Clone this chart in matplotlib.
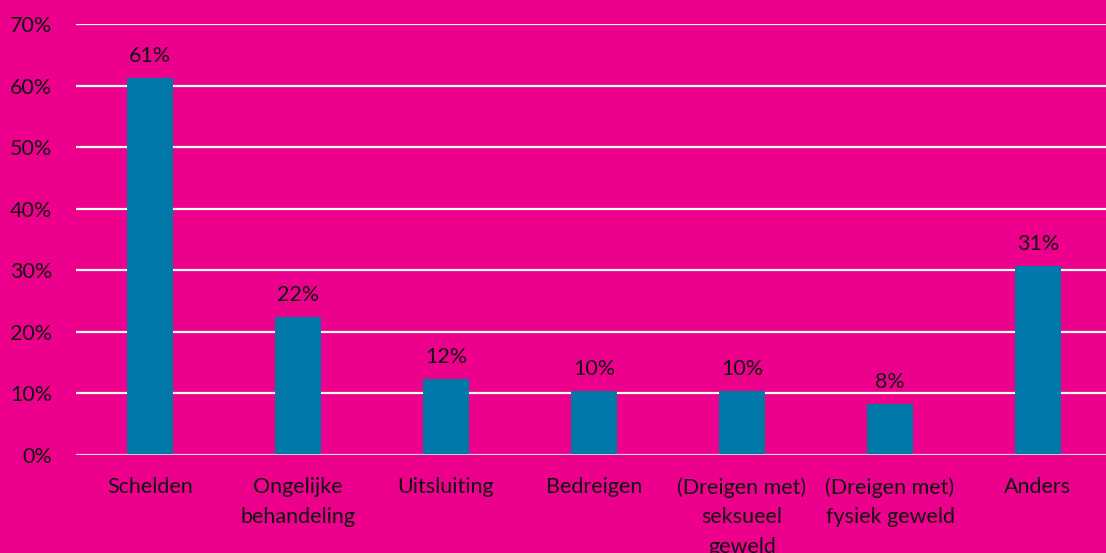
import matplotlib.pyplot as plt
from matplotlib.ticker import FuncFormatter

# Data
categories = [
    "Schelden",
    "Ongelijke\nbehandeling",
    "Uitsluiting",
    "Bedreigen",
    "(Dreigen met)\nseksueel\ngeweld",
    "(Dreigen met)\nfysiek geweld",
    "Anders",
]
values = [61.2, 22.4, 12.3, 10.4, 10.4, 8.3, 30.7]
y_ticks = [0, 10, 20, 30, 40, 50, 60, 70]

BG = "#EC008C"
BAR = "#0079A8"
FS = 15.5

plt.rcParams["font.family"] = ["Lato", "DejaVu Sans"]

fig = plt.figure(figsize=(11.06, 5.53), dpi=100, facecolor=BG)
ax = fig.add_axes([76 / 1106, 1 - 455 / 553, 1036 / 1106, 431 / 553])
ax.set_facecolor(BG)

x = range(len(categories))
bars = ax.bar(x, values, width=0.31, color=BAR, zorder=3)

for rect, v in zip(bars, values):
    ax.text(rect.get_x() + rect.get_width() / 2, v + 2.0, f"{round(v)}%",
            ha="center", va="bottom", fontsize=FS, color="#111111")

ax.set_xlim(-0.5, len(categories) - 0.5)
ax.set_ylim(0, 70)
ax.set_yticks(y_ticks)
ax.yaxis.set_major_formatter(FuncFormatter(lambda v, _: f"{v:.0f}%"))
ax.set_xticks(list(x))
ax.set_xticklabels(categories, linespacing=1.6)

ax.grid(axis="y", color="white", linewidth=1.6, zorder=0)
ax.axhline(0, color="#D9D9D9", linewidth=2, zorder=4)
for s in ax.spines.values():
    s.set_visible(False)
ax.tick_params(axis="both", length=0, labelsize=FS, colors="#111111")
ax.tick_params(axis="y", pad=17)
ax.tick_params(axis="x", pad=16)

fig.savefig("out.png", dpi=100, facecolor=BG)
